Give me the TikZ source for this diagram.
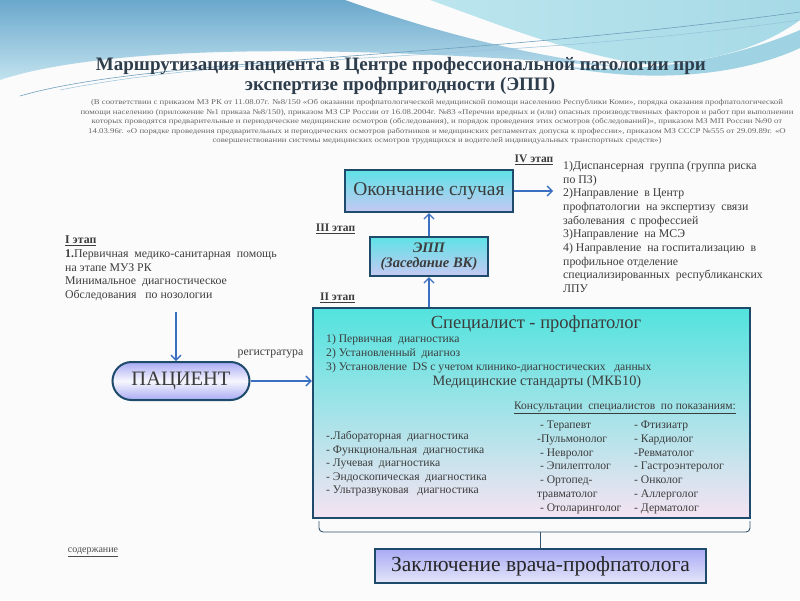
\documentclass[tikz,border=0pt]{standalone}
\usepackage{fontspec}
\setmainfont{Liberation Serif}
\newfontfamily\widefont[FakeStretch=1.2]{Liberation Serif}
\usetikzlibrary{arrows.meta,shadings}
\definecolor{txt}{HTML}{3C3C3C}
\definecolor{ttl}{HTML}{2E3D4C}
\definecolor{bord}{HTML}{1E4A6C}
\definecolor{arr}{HTML}{3B6FC2}
\definecolor{cyanT}{HTML}{5EE2E6}
\definecolor{lavB}{HTML}{C6C8F2}
\definecolor{bgA}{HTML}{6AA8CC}
\definecolor{bgB}{HTML}{C2E2EE}
\definecolor{bgC}{HTML}{BCE5EE}
\definecolor{bgD}{HTML}{A6DAE6}
\definecolor{bgE}{HTML}{9FD3E3}
\definecolor{spT}{HTML}{52E3DE}
\definecolor{spM}{HTML}{8EC5F3}
\definecolor{spB}{HTML}{F5E3F2}
\tikzset{
  cyanbox/.style={draw=bord, line width=2.2pt, top color=cyanT, bottom color=lavB, text=txt},
  flowarrow/.style={draw=arr, line width=1.4pt, -{Straight Barb[length=5pt,width=10pt,line width=1.3pt]}},
  stagelbl/.style={font=\fontsize{11.5}{13}\selectfont\bfseries, text=txt, inner sep=0pt},
  bodytxt/.style={font=\fontsize{11.6}{13.6}\selectfont, text=txt, inner sep=0pt, align=left},
}
\begin{document}
\begin{tikzpicture}[x=1pt,y=-1pt]
\useasboundingbox (0,0) rectangle (800,600);
% background
\fill[white!97!gray] (0,0) rectangle (800,600);
\shade[top color=bgA, bottom color=bgB] (0,0) -- (345,0) .. controls (430,30) and (520,55) .. (630,68) .. controls (450,52) and (250,45) .. (120,58) .. controls (70,63) and (30,70) .. (0,80) -- cycle;
\shade[left color=bgC, right color=bgD] (430,0) -- (800,0) -- (800,20) .. controls (760,50) and (700,65) .. (640,64) .. controls (560,50) and (500,25) .. (430,0) -- cycle;
\fill[bgE] (560,66) .. controls (650,76) and (740,56) .. (800,30) -- (800,48) .. controls (740,76) and (650,84) .. (560,66) -- cycle;
\draw[bgA!80!gray, line width=0.6pt] (20,96) .. controls (150,58) and (450,60) .. (800,12);
\draw[bgA!70!white, line width=0.5pt] (60,90) .. controls (250,52) and (500,62) .. (800,20);

% title
\node[font=\fontsize{19}{22}\selectfont\bfseries, text=ttl, inner sep=0pt] (t1) at (401,66) {Маршрутизация пациента в Центре профессиональной патологии при};
\node[font=\fontsize{19}{22}\selectfont\bfseries, text=ttl, inner sep=0pt] (t2) at (400,86) {экспертизе профпригодности (ЭПП)};

\node[font=\widefont\fontsize{7.3}{9.6}\selectfont, text=black!60, align=center, inner sep=0pt, anchor=north] (ref) at (437,99) {(В соответствии с приказом МЗ РК от 11.08.07г. №8/150 «Об оказании профпатологической медицинской помощи населению Республики Коми», порядка оказания профпатологической\\
помощи населению (приложение №1 приказа №8/150), приказом МЗ СР России от 16.08.2004г. №83 «Перечни вредных и (или) опасных производственных факторов и работ при выполнении\\
которых проводятся предварительные и периодические медицинские осмотров (обследования), и порядок проведения этих осмотров (обследований)», приказом МЗ МП России №90 от\\
14.03.96г. «О порядке проведения предварительных и периодических осмотров работников и медицинских регламентах допуска к профессии», приказом МЗ СССР №555 от 29.09.89г. «О\\
совершенствовании системы медицинских осмотров трудящихся и водителей индивидуальных транспортных средств»)};

% boxes
\node[cyanbox, minimum width=168pt, minimum height=42pt, font=\fontsize{19.5}{22}\selectfont] (end) at (429,191) {Окончание случая};
\node[cyanbox, minimum width=118pt, minimum height=39pt, font=\fontsize{14.5}{15.5}\selectfont\bfseries\itshape, align=center, inner sep=1pt] (epp) at (429,256.5) {ЭПП\\(Заседание ВК)};
\node[draw=bord, line width=2.4pt, minimum width=437pt, minimum height=210pt, inner sep=0pt,
      shading=axis, top color=spT, middle color=spM, bottom color=spB] (spec) at (531.5,413) {};
\node[draw=bord, line width=2pt, rounded corners=19pt, minimum width=137pt, minimum height=38pt,
      top color=lavB!85!blue, bottom color=lavB!85!blue, middle color=white!85!lavB, font=\fontsize{20.5}{22}\selectfont, text=txt] (pat) at (181,381) {ПАЦИЕНТ};
\node[draw=bord, line width=1.8pt, minimum width=331pt, minimum height=34pt,
      top color=lavB!85!blue, bottom color=lavB!45!white, font=\fontsize{21.5}{23}\selectfont, text=black!85] (concl) at (540.5,566) {Заключение врача-профпатолога};

% specialist content
\node[font=\fontsize{18.5}{21}\selectfont, text=txt, inner sep=0pt] (sp) at (536,324) {Специалист - профпатолог};
\node[bodytxt, anchor=north west, font=\fontsize{11.6}{14}\selectfont] (sl) at (326,334) {1) Первичная\ \ диагностика\\2) Установленный\ \ диагноз\\3) Установление\ \ DS с учетом клинико-диагностических\ \ \ данных};
\node[font=\fontsize{14.3}{16}\selectfont, text=txt, inner sep=0pt] (ms) at (537,382) {Медицинские стандарты (МКБ10)};
\node[font=\fontsize{11.5}{13}\selectfont, text=txt, inner sep=0pt] (cons) at (625,408) {\underline{Консультации\ \ специалистов\ \ по показаниям:}};
\node[bodytxt, anchor=north west, font=\fontsize{11.6}{13.5}\selectfont] (diag) at (326,431) {-.Лабораторная\ \ диагностика\\- Функциональная\ \ диагностика\\- Лучевая\ \ диагностика\\- Эндоскопическая\ \ диагностика\\- Ультразвуковая\ \ \ диагностика};
\node[bodytxt, anchor=north west, font=\fontsize{11.6}{13.7}\selectfont] (m1) at (537,421) {\ - Терапевт\\-Пульмонолог\\\ - Невролог\\\ - Эпилептолог\\\ - Ортопед-\\травматолог\\\ - Отоларинголог};
\node[bodytxt, anchor=north west, font=\fontsize{11.6}{13.7}\selectfont] (m2) at (634,421) {- Фтизиатр\\- Кардиолог\\-Ревматолог\\- Гастроэнтеролог\\- Онколог\\- Аллерголог\\- Дерматолог};

% left stage I
\node[bodytxt, anchor=north west, font=\fontsize{11.8}{13.6}\selectfont] (st1) at (65,236) {\textbf{\underline{I этап}}\\\textbf{1.}Первичная\ \ медико-санитарная\ \ помощь\\на этапе МУЗ РК\\Минимальное\ \ диагностическое\\Обследования\ \ \ по нозологии};

% right stage IV list
\node[bodytxt, anchor=north west, font=\fontsize{11.8}{13.7}\selectfont] (st4) at (563,161) {1)Диспансерная\ \ группа (группа риска\\по ПЗ)\\2)Направление\ \ в Центр\\профпатологии\ \ на экспертизу\ \ связи\\заболевания\ \ с профессией\\3)Направление\ \ на МСЭ\\4) Направление\ \ на госпитализацию\ \ в\\профильное отделение\\специализированных\ \ республиканских\\ЛПУ};

% stage labels
\node[stagelbl] (l4) at (534,160) {\underline{IV этап}};
\node[stagelbl] (l3) at (335.5,229) {\underline{III этап}};
\node[stagelbl] (l2) at (337.5,298) {\underline{II этап}};
\node[font=\fontsize{11.8}{13}\selectfont, text=txt, inner sep=0pt] (reg) at (270.5,354) {регистратура};
\node[font=\fontsize{10}{12}\selectfont, text=black!70, inner sep=0pt] (cont) at (93,552) {\underline{содержание}};

% connectors
\coordinate (e4) at (553,191);
\coordinate (p1) at (176,312);
\draw[flowarrow] (end.east) -- (e4);
\draw[flowarrow] (epp.north) -- (end.south);
\draw[flowarrow] (epp.south |- spec.north) -- (epp.south);
\draw[flowarrow] (p1) -- (p1 |- pat.north);
\draw[flowarrow] (pat.east) -- (pat.east -| spec.west);
% brace
\coordinate (bm) at (concl.north |- 0,532);
\draw[bord!80!gray, line width=0.9pt, rounded corners=4pt] (319,521) |- (bm) -| (750,521);
\draw[bord!80!gray, line width=0.9pt] (bm) -- (concl.north);
\end{tikzpicture}
\end{document}
